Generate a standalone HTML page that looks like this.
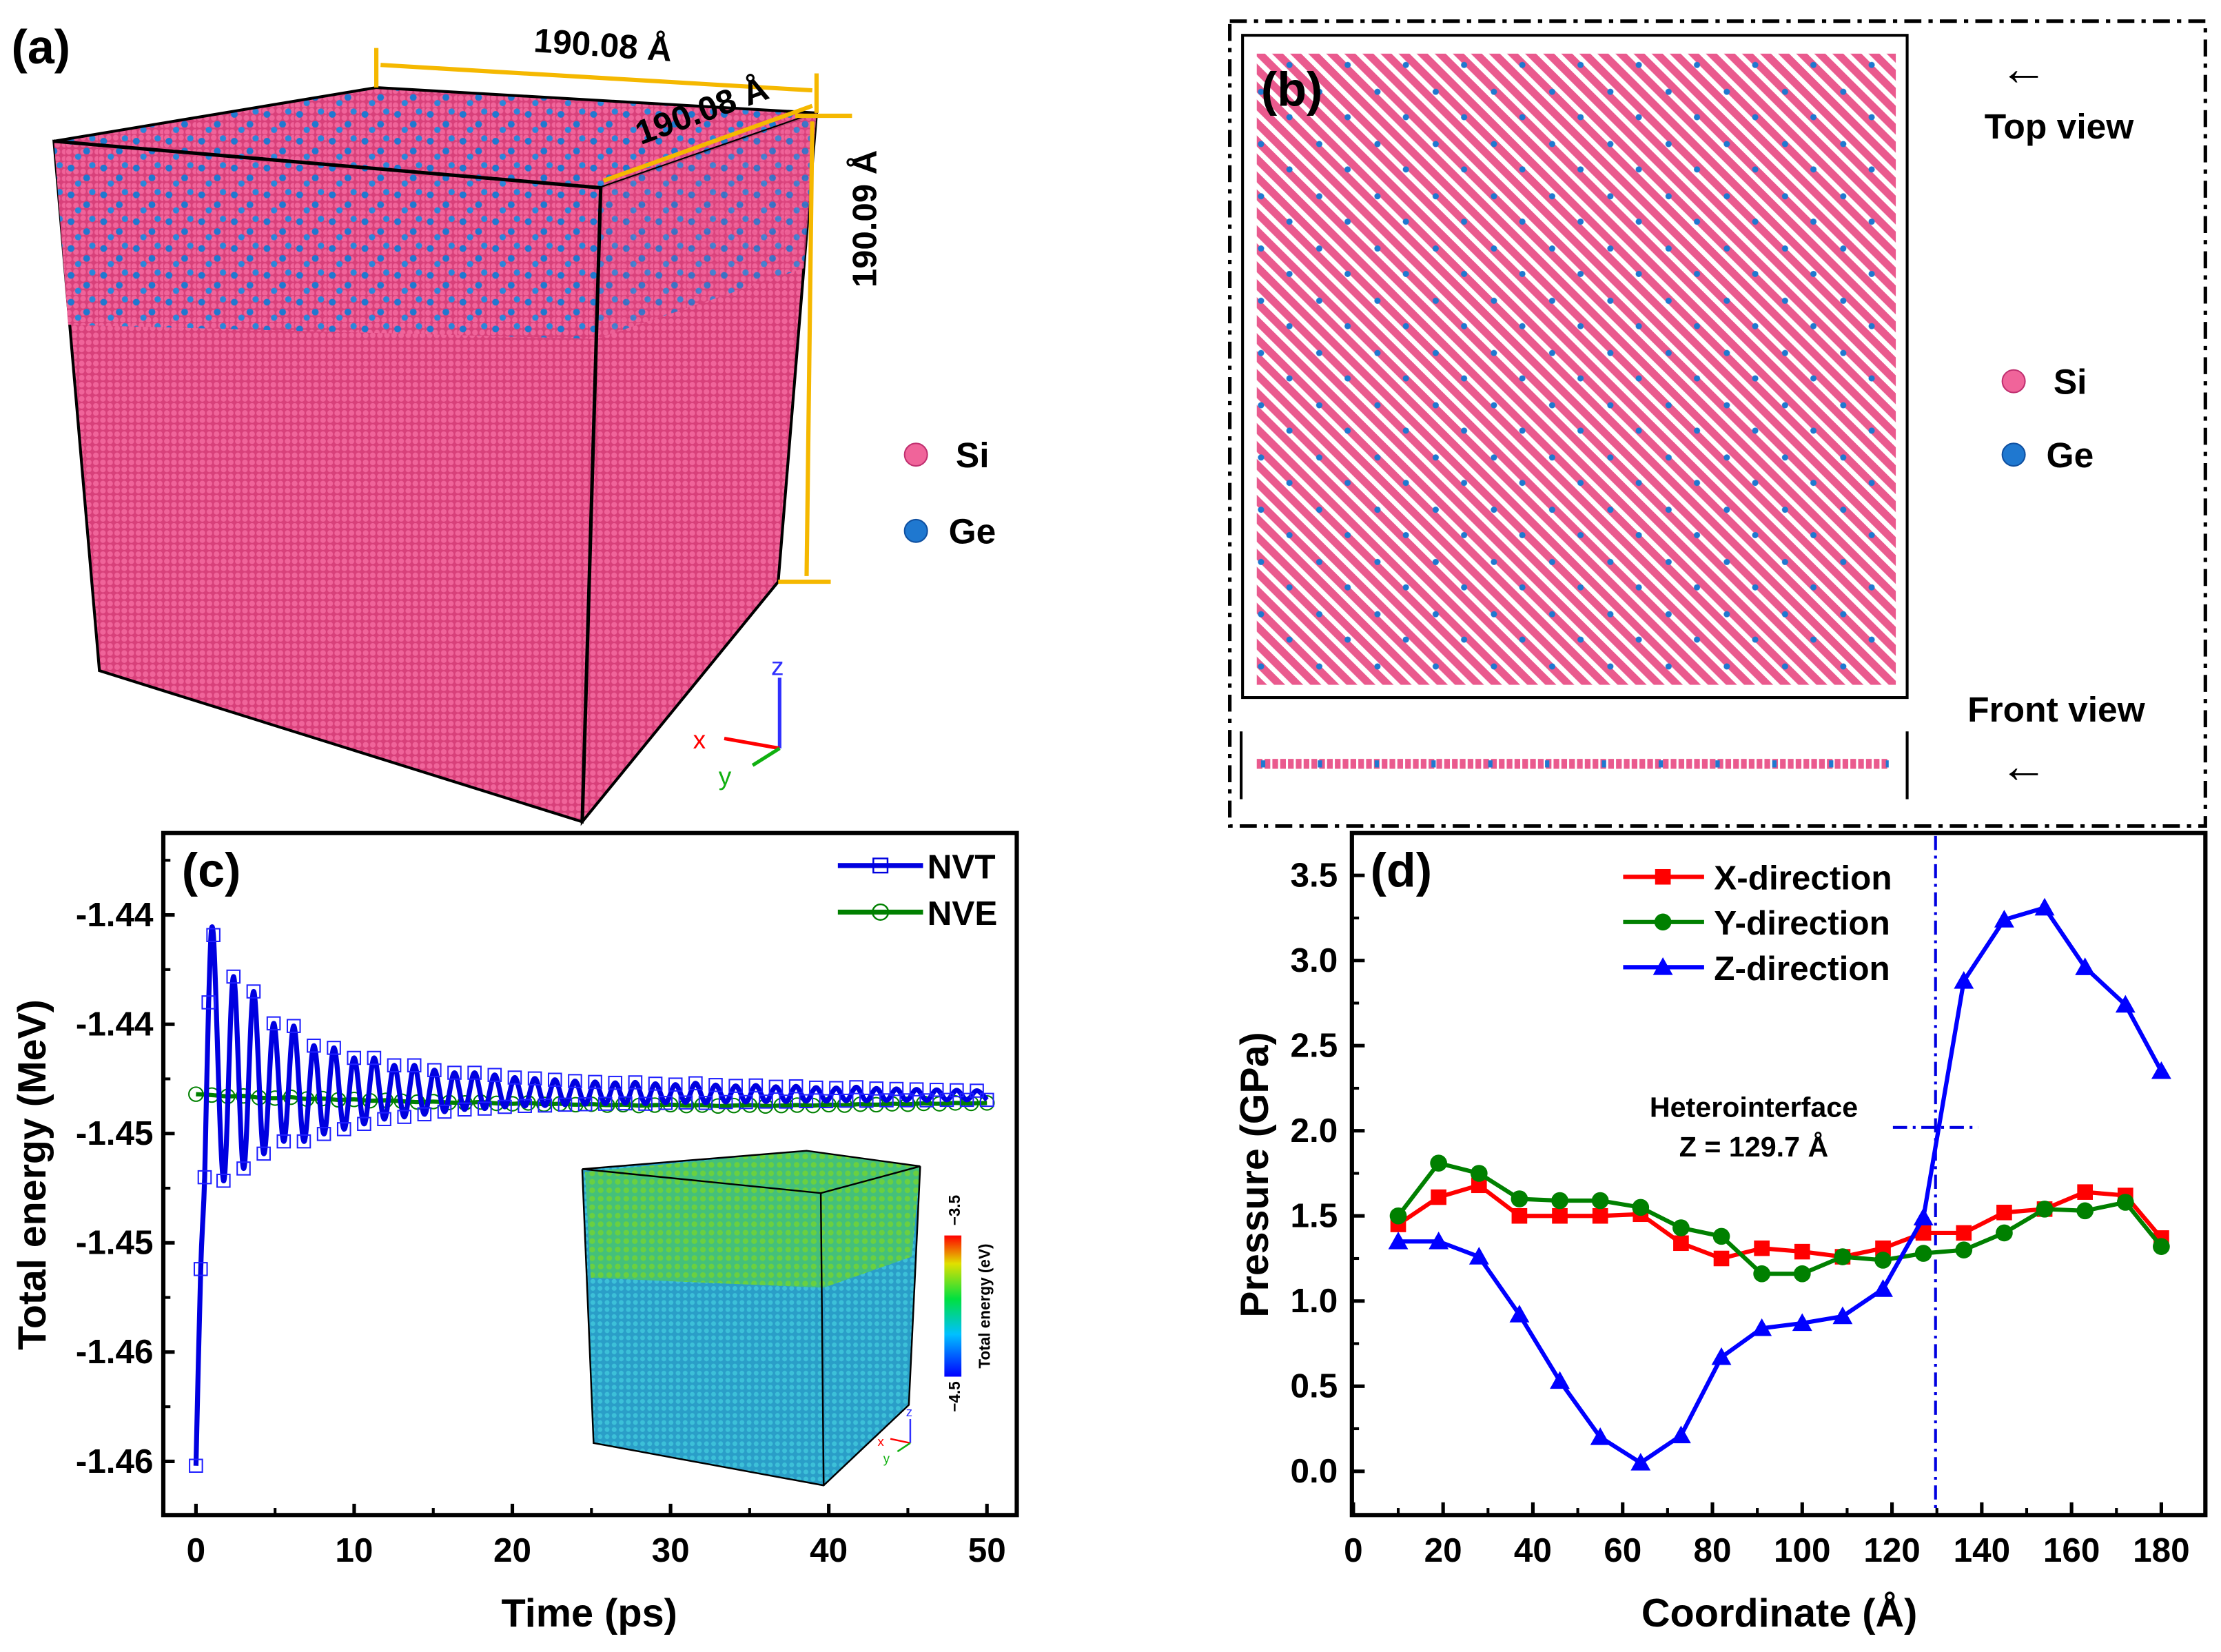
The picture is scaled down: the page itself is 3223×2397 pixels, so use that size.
<!DOCTYPE html>
<html><head><meta charset="utf-8"><style>
html,body{margin:0;padding:0;background:#fff}
svg{display:block}
text{font-family:"Liberation Sans",Arial,sans-serif;font-weight:bold;fill:#000}
</style></head><body>
<svg id="fig" width="3223" height="2397" viewBox="0 0 1564 1170" preserveAspectRatio="none" xmlns="http://www.w3.org/2000/svg">
<defs>
<pattern id="pinkAtoms" width="5" height="5" patternUnits="userSpaceOnUse">
<rect width="5" height="5" fill="#d8407a"/><circle cx="2.5" cy="2.5" r="2" fill="#f0649a"/></pattern>
<pattern id="mixAtoms" width="23" height="19" patternUnits="userSpaceOnUse">
<rect width="23" height="19" fill="url(#pinkAtoms)"/>
<circle cx="4" cy="5" r="2.4" fill="#1f78d0"/><circle cx="15" cy="12" r="2.4" fill="#1f78d0"/><circle cx="19" cy="3" r="2.2" fill="#2a86da"/><circle cx="9" cy="16" r="2.2" fill="#2a86da"/></pattern>
<pattern id="stripes" width="9" height="9" patternUnits="userSpaceOnUse" patternTransform="rotate(45)">
<rect width="9" height="9" fill="#fff"/><rect x="0" y="0" width="9" height="5.5" fill="#ea5a8e"/></pattern>
<pattern id="bdots" width="41" height="37" patternUnits="userSpaceOnUse">
<circle cx="6" cy="9" r="2.2" fill="#1f78d0"/><circle cx="27" cy="28" r="2.2" fill="#1f78d0"/></pattern>
<pattern id="insetTop" width="6" height="6" patternUnits="userSpaceOnUse">
<rect width="6" height="6" fill="#44c07a"/><circle cx="3" cy="3" r="2" fill="#6ad040"/></pattern>
<pattern id="insetBot" width="5" height="5" patternUnits="userSpaceOnUse">
<rect width="5" height="5" fill="#2a9ec8"/><circle cx="2.5" cy="2.5" r="1.7" fill="#3cc0d8"/></pattern>
<linearGradient id="cbar" x1="0" y1="1" x2="0" y2="0">
<stop offset="0" stop-color="#0000ff"/><stop offset="0.3" stop-color="#00c0ff"/><stop offset="0.55" stop-color="#00e040"/><stop offset="0.8" stop-color="#e0e000"/><stop offset="1" stop-color="#ff0000"/></linearGradient>
</defs>

<g>
<text x="8" y="45" font-size="34">(a)</text>
<polygon points="38,100 265,62 575,80 423,133" fill="url(#mixAtoms)" stroke="#000" stroke-width="2"/>
<polygon points="38,100 423,133 410,582 70,475" fill="url(#pinkAtoms)" stroke="#000" stroke-width="2"/>
<polygon points="38,100 423,133 420,240 48,230" fill="url(#mixAtoms)"/>
<polygon points="423,133 575,80 548,412 410,582" fill="url(#pinkAtoms)" stroke="#000" stroke-width="2"/>
<polygon points="423,133 575,80 566,190 420,240" fill="url(#mixAtoms)" opacity="0.85"/>
<polyline points="38,100 423,133 410,582" fill="none" stroke="#000" stroke-width="2.5"/>
<g stroke="#f5b800" stroke-width="3" fill="none">
<line x1="265" y1="34" x2="265" y2="62"/><line x1="575" y1="52" x2="575" y2="80"/>
<line x1="268" y1="46" x2="572" y2="64"/>
<line x1="425" y1="128" x2="572" y2="75"/>
<line x1="560" y1="82" x2="600" y2="82"/><line x1="548" y1="412" x2="585" y2="412"/>
<line x1="572" y1="86" x2="568" y2="408"/>
</g>
<text x="424" y="40" font-size="24" text-anchor="middle" transform="rotate(4 424 40)">190.08 Å</text>
<text x="497" y="86" font-size="24" text-anchor="middle" transform="rotate(-20 497 86)">190.08 Å</text>
<text x="617" y="155" font-size="24" text-anchor="middle" transform="rotate(-90 617 155)">190.09 Å</text>
<circle cx="645" cy="322" r="8" fill="#f0649a" stroke="#c03070"/>
<text x="673" y="331" font-size="25">Si</text>
<circle cx="645" cy="376" r="8" fill="#1f78d0" stroke="#1050a0"/>
<text x="668" y="385" font-size="25">Ge</text>
<g>
<line x1="549" y1="530" x2="549" y2="480" stroke="#3030ff" stroke-width="2.5"/><text x="543" y="478" font-size="18" style="fill:#3030ff;font-weight:normal">z</text>
<line x1="549" y1="530" x2="510" y2="523" stroke="#ff0000" stroke-width="2.5"/><text x="488" y="530" font-size="18" style="fill:#ff0000;font-weight:normal">x</text>
<line x1="549" y1="530" x2="530" y2="542" stroke="#10b010" stroke-width="2.5"/><text x="506" y="556" font-size="18" style="fill:#10b010;font-weight:normal">y</text>
</g>
</g>

<g>
<rect x="866" y="15" width="687" height="570" fill="none" stroke="#000" stroke-width="2.5" stroke-dasharray="12,5,3,5"/>
<rect x="875" y="25" width="468" height="469" fill="#fff" stroke="#000" stroke-width="2"/>
<rect x="885" y="38" width="450" height="447" fill="url(#stripes)"/>
<rect x="885" y="38" width="450" height="447" fill="url(#bdots)"/>
<text x="888" y="75" font-size="34">(b)</text>
<text x="1425" y="60" font-size="34" text-anchor="middle" style="font-weight:normal">←</text>
<text x="1450" y="98" font-size="25" text-anchor="middle">Top view</text>
<circle cx="1418" cy="270" r="8" fill="#f0649a" stroke="#c03070"/>
<text x="1446" y="279" font-size="25">Si</text>
<circle cx="1418" cy="322" r="8" fill="#1f78d0" stroke="#1050a0"/>
<text x="1441" y="331" font-size="25">Ge</text>
<text x="1448" y="511" font-size="25" text-anchor="middle">Front view</text>
<text x="1425" y="554" font-size="34" text-anchor="middle" style="font-weight:normal">←</text>
<line x1="874" y1="518" x2="874" y2="566" stroke="#000" stroke-width="2"/>
<line x1="1343" y1="518" x2="1343" y2="566" stroke="#000" stroke-width="2"/>
<line x1="885" y1="541" x2="1330" y2="541" stroke="#ea5a8e" stroke-width="7" stroke-dasharray="4,1.5"/>
<line x1="888" y1="541" x2="1330" y2="541" stroke="#1f78d0" stroke-width="5" stroke-dasharray="3,37"/>
</g>

<g id="pc">
<rect x="115" y="590" width="601" height="483" fill="none" stroke="#000" stroke-width="3"/>
<text x="128" y="628" font-size="34">(c)</text>
<text x="415" y="1152" font-size="28" text-anchor="middle">Time (ps)</text>
<text x="32" y="832" font-size="28" text-anchor="middle" transform="rotate(-90 32 832)">Total energy (MeV)</text>
<g>
<polygon points="410,828 568,815 648,826 640,995 580,1052 418,1022" fill="url(#insetBot)"/>
<polygon points="412,830 568,815 648,826 642,890 580,912 416,905" fill="url(#insetTop)"/>
<polygon points="410,828 568,815 648,826 578,845" fill="none" stroke="#000" stroke-width="1.2"/>
<polyline points="410,828 418,1022 580,1052 640,995 648,826" fill="none" stroke="#000" stroke-width="1.2"/>
<line x1="578" y1="845" x2="580" y2="1052" stroke="#000" stroke-width="1.2"/>
<rect x="665" y="875" width="12" height="100" fill="url(#cbar)"/>
<text x="676" y="868" font-size="11" transform="rotate(-90 676 868)">−3.5</text>
<text x="676" y="1000" font-size="11" transform="rotate(-90 676 1000)">−4.5</text>
<text x="697" y="925" font-size="11" text-anchor="middle" transform="rotate(-90 697 925)">Total energy (eV)</text>
<line x1="641" y1="1022" x2="641" y2="1005" stroke="#3030ff" stroke-width="1.2"/><text x="638" y="1003" font-size="9" style="fill:#3030ff;font-weight:normal">z</text>
<line x1="641" y1="1022" x2="627" y2="1019" stroke="#ff0000" stroke-width="1.2"/><text x="618" y="1024" font-size="9" style="fill:#ff0000;font-weight:normal">x</text>
<line x1="641" y1="1022" x2="632" y2="1028" stroke="#10b010" stroke-width="1.2"/><text x="622" y="1036" font-size="9" style="fill:#10b010;font-weight:normal">y</text>
</g>
<g>
<line x1="590" y1="613" x2="650" y2="613" stroke="#0000e0" stroke-width="3.5"/>
<rect x="615" y="608" width="10" height="10" fill="none" stroke="#0000e0" stroke-width="1.2"/>
<text x="653" y="622" font-size="24">NVT</text>
<line x1="590" y1="646" x2="650" y2="646" stroke="#008000" stroke-width="3.5"/>
<circle cx="620" cy="646" r="5.5" fill="none" stroke="#008000" stroke-width="1.2"/>
<text x="653" y="655" font-size="24">NVE</text>
</g>
</g>

<g id="pd">
<rect x="952" y="590" width="601" height="483" fill="none" stroke="#000" stroke-width="3"/>
<text x="965" y="628" font-size="34">(d)</text>
<text x="1253" y="1152" font-size="28" text-anchor="middle">Coordinate (Å)</text>
<text x="893" y="832" font-size="28" text-anchor="middle" transform="rotate(-90 893 832)">Pressure (GPa)</text>
<text x="1235" y="791" font-size="20" text-anchor="middle">Heterointerface</text>
<text x="1235" y="819" font-size="20" text-anchor="middle">Z = 129.7 Å</text>
</g>
</svg>
<script>
var timePs = [0,0.3,0.55,0.8,1.1,1.74,2.37,3.01,3.64,4.28,4.91,5.55,6.18,6.82,7.45,8.09,8.72,9.36,9.99,10.63,11.26,11.9,12.53,13.17,13.8,14.44,15.07,15.71,16.34,16.98,17.61,18.25,18.88,19.52,20.15,20.79,21.42,22.06,22.69,23.33,23.96,24.6,25.23,25.87,26.5,27.14,27.77,28.41,29.04,29.68,30.31,30.95,31.58,32.22,32.85,33.49,34.12,34.76,35.39,36.03,36.66,37.3,37.93,38.57,39.2,39.84,40.47,41.11,41.74,42.38,43.01,43.65,44.28,44.92,45.55,46.19,46.82,47.46,48.09,48.73,49.36,50.0];
var nvtEnergy = [-1.45260,-1.44810,-1.44600,-1.44200,-1.44046,-1.44608,-1.44141,-1.44580,-1.44175,-1.44546,-1.44248,-1.44518,-1.44254,-1.44518,-1.44299,-1.44501,-1.44304,-1.44490,-1.44327,-1.44478,-1.44327,-1.44467,-1.44344,-1.44462,-1.44344,-1.44456,-1.44355,-1.44450,-1.44361,-1.44445,-1.44361,-1.44443,-1.44366,-1.44439,-1.44372,-1.44437,-1.44374,-1.44436,-1.44377,-1.44434,-1.44380,-1.44433,-1.44382,-1.44432,-1.44384,-1.44431,-1.44383,-1.44432,-1.44386,-1.44430,-1.44388,-1.44429,-1.44385,-1.44430,-1.44389,-1.44428,-1.44391,-1.44428,-1.44390,-1.44427,-1.44393,-1.44427,-1.44392,-1.44426,-1.44395,-1.44426,-1.44396,-1.44425,-1.44394,-1.44425,-1.44397,-1.44424,-1.44398,-1.44424,-1.44399,-1.44424,-1.44400,-1.44423,-1.44401,-1.44423,-1.44402,-1.44423];
var nveTime = [0,1,2,3,4,5,6,7,8,9,10,11,12,13,14,15,16,17,18,19,20,21,22,23,24,25,26,27,28,29,30,31,32,33,34,35,36,37,38,39,40,41,42,43,44,45,46,47,48,49,50];
var nveEnergy = [-1.44410,-1.44412,-1.44415,-1.44414,-1.44418,-1.44419,-1.44417,-1.44421,-1.44420,-1.44423,-1.44422,-1.44425,-1.44424,-1.44426,-1.44428,-1.44427,-1.44429,-1.44430,-1.44428,-1.44431,-1.44432,-1.44430,-1.44433,-1.44432,-1.44434,-1.44433,-1.44435,-1.44434,-1.44436,-1.44435,-1.44434,-1.44436,-1.44435,-1.44437,-1.44436,-1.44435,-1.44437,-1.44436,-1.44435,-1.44436,-1.44434,-1.44435,-1.44433,-1.44434,-1.44432,-1.44433,-1.44431,-1.44432,-1.44430,-1.44431,-1.44430];
var cTicksX = [0,10,20,30,40,50];
var cTicksY = [-1.4400,-1.4425,-1.4450,-1.4475,-1.4500,-1.4525];
var cTickLabelsY = ["-1.44","-1.44","-1.45","-1.45","-1.46","-1.46"];

var coord = [10,19,28,37,46,55,64,73,82,91,100,109,118,127,136,145,154,163,172,180];
var pressX = [1.45,1.61,1.68,1.50,1.50,1.50,1.51,1.34,1.25,1.31,1.29,1.26,1.31,1.40,1.40,1.52,1.54,1.64,1.62,1.37];
var pressY = [1.50,1.81,1.75,1.60,1.59,1.59,1.55,1.43,1.38,1.16,1.16,1.26,1.24,1.28,1.30,1.40,1.54,1.53,1.58,1.32];
var pressZ = [1.35,1.35,1.26,0.92,0.53,0.20,0.05,0.21,0.67,0.84,0.87,0.91,1.07,1.49,2.88,3.24,3.31,2.96,2.74,2.35];
var dTicksX = [0,20,40,60,80,100,120,140,160,180];
var dTicksY = [0.0,0.5,1.0,1.5,2.0,2.5,3.0,3.5];
var interfaceZ = 129.7;
var interfaceP = 2.02;

var NS = "http://www.w3.org/2000/svg";
function mk(tag, attrs, parent){var e=document.createElementNS(NS,tag);for(var k in attrs)e.setAttribute(k,attrs[k]);parent.appendChild(e);return e;}
function cx(t){return 138 + t*(695-138)/50;}
function cy(v){return 648 + (-1.44 - v)/0.0025*77.4;}
function dx(v){return 953 + v*63.22/20;}
function dy(p){return 1042 - p*120.57;}
function smooth(xs, ys){
  var d="M"+xs[0]+","+ys[0];
  for(var i=0;i<xs.length-1;i++){
    var x0=xs[Math.max(i-1,0)],y0=ys[Math.max(i-1,0)],x1=xs[i],y1=ys[i],x2=xs[i+1],y2=ys[i+1],x3=xs[Math.min(i+2,xs.length-1)],y3=ys[Math.min(i+2,xs.length-1)];
    d+=" C"+(x1+(x2-x0)/6)+","+(y1+(y2-y0)/6)+" "+(x2-(x3-x1)/6)+","+(y2-(y3-y1)/6)+" "+x2+","+y2;
  }
  return d;
}
var pc=document.getElementById('pc'), pd=document.getElementById('pd');

cTicksX.forEach(function(t,i){
  var x=cx(t);
  var tk=mk('line',{x1:x,y1:1073,x2:x,y2:1065,stroke:'#000','stroke-width':2.5},pc);
  
  
  if(i<cTicksX.length-1){var m=mk('line',{x1:cx(t+5),y1:1073,x2:cx(t+5),y2:1068,stroke:'#000','stroke-width':2},pc);
    
    }
  var lb=mk('text',{x:x,y:1106,'font-size':24,'text-anchor':'middle'},pc); lb.textContent=t;
  
  
});
cTicksY.forEach(function(v,i){
  var y=cy(v);
  var tk=mk('line',{x1:115,y1:y,x2:123,y2:y,stroke:'#000','stroke-width':2.5},pc);
  
  
  var m=mk('line',{x1:115,y1:y-38.7,x2:120,y2:y-38.7,stroke:'#000','stroke-width':2},pc);
  
  
  var lb=mk('text',{x:108,y:y+8,'font-size':24,'text-anchor':'end'},pc); lb.textContent=cTickLabelsY[i];
  
  
});
var nvx=nveTime.map(cx), nvy=nveEnergy.map(cy);
var nveLine=mk('path',{d:smooth(nvx,nvy),fill:'none',stroke:'#008000','stroke-width':3},pc);


nveTime.forEach(function(t,i){
  var c=mk('circle',{cx:cx(t),cy:cy(nveEnergy[i]),r:5,fill:'none',stroke:'#008000','stroke-width':1},pc);
  
  
});
var tx=timePs.map(cx), ty=nvtEnergy.map(cy);
var nvtLine=mk('path',{d:smooth(tx,ty),fill:'none',stroke:'#0000e0','stroke-width':3.5},pc);


timePs.forEach(function(t,i){
  var r=mk('rect',{x:cx(t)-4.5,y:cy(nvtEnergy[i])-4.5,width:9,height:9,fill:'none',stroke:'#2020ff','stroke-width':1},pc);
  
  
});

dTicksX.forEach(function(v,i){
  var x=dx(v);
  var tk=mk('line',{x1:x,y1:1073,x2:x,y2:1064,stroke:'#000','stroke-width':2.5},pd);
  
  
  if(i<dTicksX.length-1){var m=mk('line',{x1:dx(v+10),y1:1073,x2:dx(v+10),y2:1068,stroke:'#000','stroke-width':2},pd);
    
    }
  var lb=mk('text',{x:x,y:1106,'font-size':24,'text-anchor':'middle'},pd); lb.textContent=v;
  
  
});
dTicksY.forEach(function(v,i){
  var y=dy(v);
  var tk=mk('line',{x1:952,y1:y,x2:961,y2:y,stroke:'#000','stroke-width':2.5},pd);
  
  
  var m=mk('line',{x1:952,y1:dy(v+0.25),x2:957,y2:dy(v+0.25),stroke:'#000','stroke-width':2},pd);
  
  
  var lb=mk('text',{x:942,y:y+8,'font-size':24,'text-anchor':'end'},pd); lb.textContent=v.toFixed(1);
  
  
});
var vl=mk('line',{x1:dx(interfaceZ),y1:592,x2:dx(interfaceZ),y2:1071,stroke:'#0000e0','stroke-width':2,'stroke-dasharray':'10,4,2,4'},pd);


var hl=mk('line',{x1:dx(interfaceZ-9.5),y1:dy(interfaceP),x2:dx(interfaceZ+9.5),y2:dy(interfaceP),stroke:'#0000e0','stroke-width':2,'stroke-dasharray':'10,4,2,4'},pd);



function series(vals,color,shape,name){
  var pts=coord.map(function(c,i){return dx(c)+","+dy(vals[i]);}).join(" ");
  var pl=mk('polyline',{points:pts,fill:'none',stroke:color,'stroke-width':3},pd);
  
  
  coord.forEach(function(c,i){
    var x=dx(c),y=dy(vals[i]),e;
    if(shape==='sq') e=mk('rect',{x:x-5.5,y:y-5.5,width:11,height:11,fill:color},pd);
    else if(shape==='ci') e=mk('circle',{cx:x,cy:y,r:6,fill:color},pd);
    else e=mk('polygon',{points:(x)+","+(y-7)+" "+(x-7)+","+(y+5.5)+" "+(x+7)+","+(y+5.5),fill:color},pd);
    
    
  });
}
series(pressX,'#ff0000','sq','x-direction');
series(pressY,'#008000','ci','y-direction');
series(pressZ,'#0000ff','tr','z-direction');

var legs=[['X-direction','#ff0000','sq',621],['Y-direction','#008000','ci',653],['Z-direction','#0000ff','tr',685]];
legs.forEach(function(l){
  var g=mk('g',{},pd);
  
  
  mk('line',{x1:1143,y1:l[3],x2:1200,y2:l[3],stroke:l[1],'stroke-width':3},g);
  var x=1171,y=l[3];
  if(l[2]==='sq') mk('rect',{x:x-5.5,y:y-5.5,width:11,height:11,fill:l[1]},g);
  else if(l[2]==='ci') mk('circle',{cx:x,cy:y,r:6,fill:l[1]},g);
  else mk('polygon',{points:x+","+(y-7)+" "+(x-7)+","+(y+5.5)+" "+(x+7)+","+(y+5.5),fill:l[1]},g);
  var t=mk('text',{x:1207,y:y+9,'font-size':24},g); t.textContent=l[0];
});
</script>
</body></html>
